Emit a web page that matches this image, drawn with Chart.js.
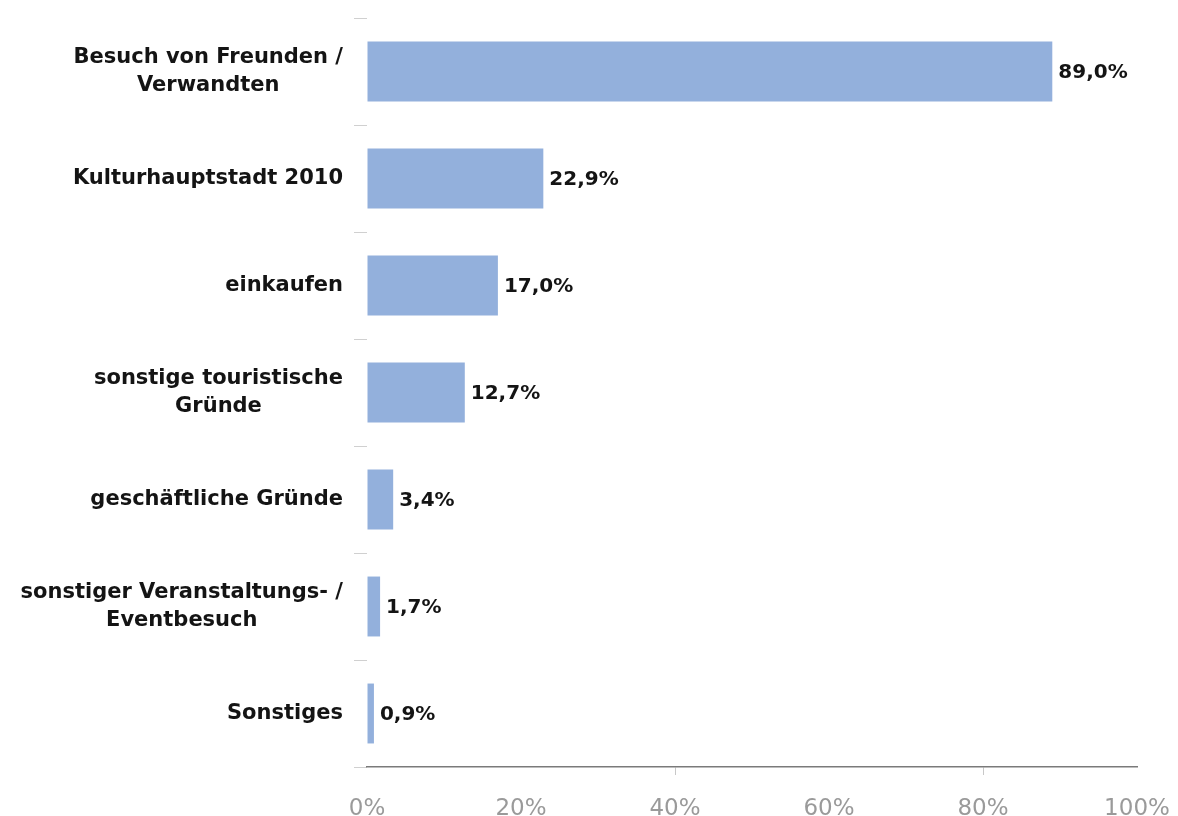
<!DOCTYPE html>
<html>
<head>
<meta charset="utf-8">
<script src="https://cdn.jsdelivr.net/npm/chart.js@4"></script>
<style>
  html, body { margin: 0; padding: 0; background: #fff; }
</style>
</head>
<body>
<canvas id="reasonChart" width="1178" height="816"></canvas>
<script>
// data
const categories = [
  ["Besuch von Freunden /", "Verwandten"],
  "Kulturhauptstadt 2010",
  "einkaufen",
  ["sonstige touristische", "Gründe"],
  "geschäftliche Gründe",
  ["sonstiger Veranstaltungs- /", "Eventbesuch"],
  "Sonstiges"
];
const shares = [89.0, 22.9, 17.0, 12.7, 3.4, 1.7, 0.9];
const xTicks = [0, 20, 40, 60, 80, 100];

const fmt = v => v.toFixed(1).replace(".", ",") + "%";

// category labels: each block right-aligned, lines centred within the block (like Excel)
const categoryLabels = {
  id: "categoryLabels",
  afterDraw(chart) {
    const { ctx, scales: { y } } = chart;
    ctx.save();
    ctx.font = "bold 21px 'DejaVu Sans'";
    ctx.fillStyle = "#141414";
    ctx.textAlign = "center";
    ctx.textBaseline = "middle";
    const right = y.right - 24;
    const lh = 28;
    categories.forEach((label, i) => {
      const lines = Array.isArray(label) ? label : [label];
      const w = Math.max(...lines.map(l => ctx.measureText(l).width));
      const cx = right - w / 2;
      const cy = y.getPixelForTick(i);
      lines.forEach((l, k) => {
        ctx.fillText(l, cx, cy + (k - (lines.length - 1) / 2) * lh);
      });
    });
    ctx.restore();
  }
};

// value labels right of each bar
const valueLabels = {
  id: "valueLabels",
  afterDatasetsDraw(chart) {
    const { ctx } = chart;
    const meta = chart.getDatasetMeta(0);
    ctx.save();
    ctx.font = "bold 20px 'DejaVu Sans'";
    ctx.fillStyle = "#141414";
    ctx.textAlign = "left";
    ctx.textBaseline = "middle";
    meta.data.forEach((bar, i) => {
      ctx.fillText(fmt(shares[i]), bar.x + 6, bar.y + 1);
    });
    ctx.restore();
  }
};

new Chart(document.getElementById("reasonChart").getContext("2d"), {
  type: "bar",
  data: {
    labels: categories,
    datasets: [{
      data: shares,
      backgroundColor: "#93b0dc",
      borderWidth: 0,
      categoryPercentage: 1,
      barPercentage: 0.56
    }]
  },
  options: {
    indexAxis: "y",
    responsive: false,
    animation: false,
    layout: { padding: { top: 18, right: 41, bottom: 0, left: 0 } },
    plugins: {
      legend: { display: false },
      tooltip: { enabled: false }
    },
    scales: {
      x: {
        min: 0,
        max: 100,
        afterBuildTicks: s => { s.ticks = xTicks.map(v => ({ value: v })); },
        afterFit: s => { s.height = 49; s.paddingLeft = 0; s.paddingRight = 0; },
        ticks: {
          callback: v => v + "%",
          color: "#9a9a9a",
          font: { family: "DejaVu Sans", size: 23, lineHeight: 1.1 },
          padding: 21,
          maxRotation: 0
        },
        grid: {
          drawOnChartArea: false,
          tickLength: 8,
          color: ctx => (ctx.tick && (ctx.tick.value === 40 || ctx.tick.value === 80)) ? "#c8c8c8" : "rgba(0,0,0,0)"
        },
        border: { display: true, color: "#7a7a7a", width: 1.5 }
      },
      y: {
        ticks: { display: false },
        afterFit: s => { s.width = 367; s.paddingTop = 0; s.paddingBottom = 0; },
        grid: {
          drawOnChartArea: false,
          offset: true,
          tickLength: 13,
          color: "#d0d0d0"
        },
        border: { display: false }
      }
    }
  },
  plugins: [categoryLabels, valueLabels]
});
</script>
</body>
</html>
